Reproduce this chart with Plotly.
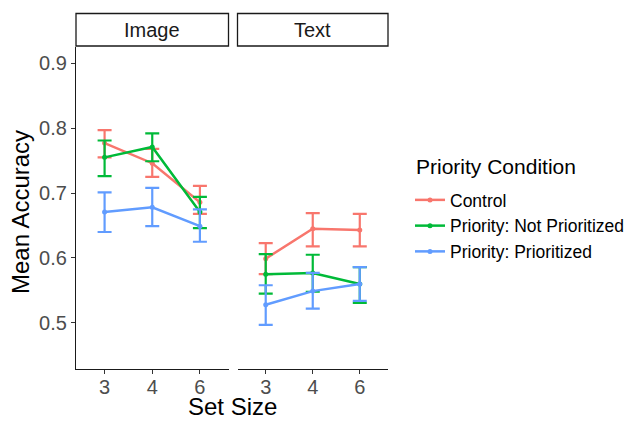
import plotly.graph_objects as go
from plotly.subplots import make_subplots

set_sizes = ["3", "4", "6"]
panels = ["Image", "Text"]
conditions = ["Control", "Priority: Not Prioritized", "Priority: Prioritized"]
colors = ["#F8766D", "#00BA38", "#619CFF"]

# mean, upper, lower per panel per condition
means = {
    "Image": {
        "Control": [0.777, 0.746, 0.686],
        "Priority: Not Prioritized": [0.755, 0.771, 0.671],
        "Priority: Prioritized": [0.671, 0.678, 0.649],
    },
    "Text": {
        "Control": [0.599, 0.645, 0.643],
        "Priority: Not Prioritized": [0.575, 0.577, 0.560],
        "Priority: Prioritized": [0.528, 0.549, 0.560],
    },
}
upper = {
    "Image": {
        "Control": [0.797, 0.768, 0.711],
        "Priority: Not Prioritized": [0.781, 0.792, 0.694],
        "Priority: Prioritized": [0.701, 0.708, 0.675],
    },
    "Text": {
        "Control": [0.623, 0.669, 0.668],
        "Priority: Not Prioritized": [0.606, 0.605, 0.586],
        "Priority: Prioritized": [0.558, 0.577, 0.586],
    },
}
lower = {
    "Image": {
        "Control": [0.755, 0.725, 0.668],
        "Priority: Not Prioritized": [0.726, 0.749, 0.646],
        "Priority: Prioritized": [0.640, 0.649, 0.625],
    },
    "Text": {
        "Control": [0.575, 0.618, 0.618],
        "Priority: Not Prioritized": [0.545, 0.548, 0.531],
        "Priority: Prioritized": [0.497, 0.522, 0.534],
    },
}
y_ticks = [0.5, 0.6, 0.7, 0.8, 0.9]

W, H = 630, 424
ml, mr, mt, mb = 76, 242, 47, 55
pw = W - ml - mr
ph = H - mt - mb


def px_x(x):
    return (x - ml) / pw


def px_y(y):
    return 1 - (y - mt) / ph


d1 = px_x(228.5)
d2 = px_x(237.5)

FONT = "Liberation Sans, Arial, sans-serif"

fig = make_subplots(rows=1, cols=2, shared_yaxes=True, horizontal_spacing=0)

for pi, panel in enumerate(panels):
    for ci, cond in enumerate(conditions):
        m = means[panel][cond]
        up = [u - v for u, v in zip(upper[panel][cond], m)]
        dn = [v - l for l, v in zip(lower[panel][cond], m)]
        fig.add_trace(
            go.Scatter(
                x=[0, 1, 2], y=m, mode="lines+markers",
                name=cond, legendgroup=cond, showlegend=(pi == 0),
                line=dict(color=colors[ci], width=2.5),
                marker=dict(color=colors[ci], size=5),
                error_y=dict(type="data", symmetric=False, array=up, arrayminus=dn,
                             color=colors[ci], thickness=2.2, width=7),
            ),
            row=1, col=pi + 1,
        )

axis_common = dict(
    tickmode="array", tickvals=[0, 1, 2], ticktext=set_sizes,
    range=[-0.6, 2.6], showgrid=False, zeroline=False,
    showline=True, linecolor="#1a1a1a", linewidth=1.3,
    ticks="outside", ticklen=4, tickcolor="#333333", tickwidth=1.2,
    tickfont=dict(size=20, color="#4d4d4d"), automargin=False,
    ticklabelstandoff=-4,
)
fig.update_layout(
    xaxis=dict(domain=[0, d1], **axis_common),
    xaxis2=dict(domain=[d2, 1], **axis_common),
    yaxis=dict(range=[0.429, 0.925], tickvals=y_ticks,
               ticktext=[f"{v:.1f}" for v in y_ticks],
               showgrid=False, zeroline=False, showline=True, linecolor="#1a1a1a",
               linewidth=1.3, ticks="outside", ticklen=4, tickcolor="#333333", tickwidth=1.2,
               tickfont=dict(size=20, color="#4d4d4d"), automargin=False),
    yaxis2=dict(showline=False, ticks="", showticklabels=False, showgrid=False,
                zeroline=False, automargin=False),
)

# facet strips
for dom, label in [([0, d1], "Image"), ([d2, 1], "Text")]:
    fig.add_shape(type="rect", xref="paper", yref="paper",
                  x0=dom[0], x1=dom[1], y0=px_y(46), y1=px_y(13.5),
                  line=dict(color="#1a1a1a", width=1.3), fillcolor="white")
    fig.add_annotation(x=(dom[0] + dom[1]) / 2, y=px_y(30), xref="paper", yref="paper",
                       text=label, showarrow=False, xanchor="center", yanchor="middle",
                       font=dict(size=20, color="#1a1a1a"))

# axis titles
fig.add_annotation(x=px_x(232), y=px_y(406), xref="paper", yref="paper",
                   text="Set Size", showarrow=False, xanchor="center", yanchor="middle",
                   font=dict(size=24, color="black"))
fig.add_annotation(x=px_x(20), y=px_y(212), xref="paper", yref="paper",
                   text="Mean Accuracy", showarrow=False, xanchor="center", yanchor="middle",
                   textangle=-90, font=dict(size=24, color="black"))

# legend title
fig.add_annotation(x=px_x(414), y=px_y(166), xref="paper", yref="paper",
                   text="Priority Condition", showarrow=False, xanchor="left", yanchor="middle",
                   font=dict(size=21, color="black"))

fig.update_layout(
    width=W, height=H,
    margin=dict(l=ml, r=mr, t=mt, b=mb, autoexpand=False),
    plot_bgcolor="white", paper_bgcolor="white",
    font=dict(family=FONT),
    legend=dict(
        font=dict(size=17.5, color="black"),
        x=px_x(410), xanchor="left", y=px_y(182), yanchor="top",
        tracegroupgap=0, itemwidth=30, bgcolor="rgba(0,0,0,0)",
    ),
)

fig.write_html(
    "out.html",
    config={"displayModeBar": False},
    post_script="document.body.style.margin='0';document.body.style.overflow='hidden';",
)
